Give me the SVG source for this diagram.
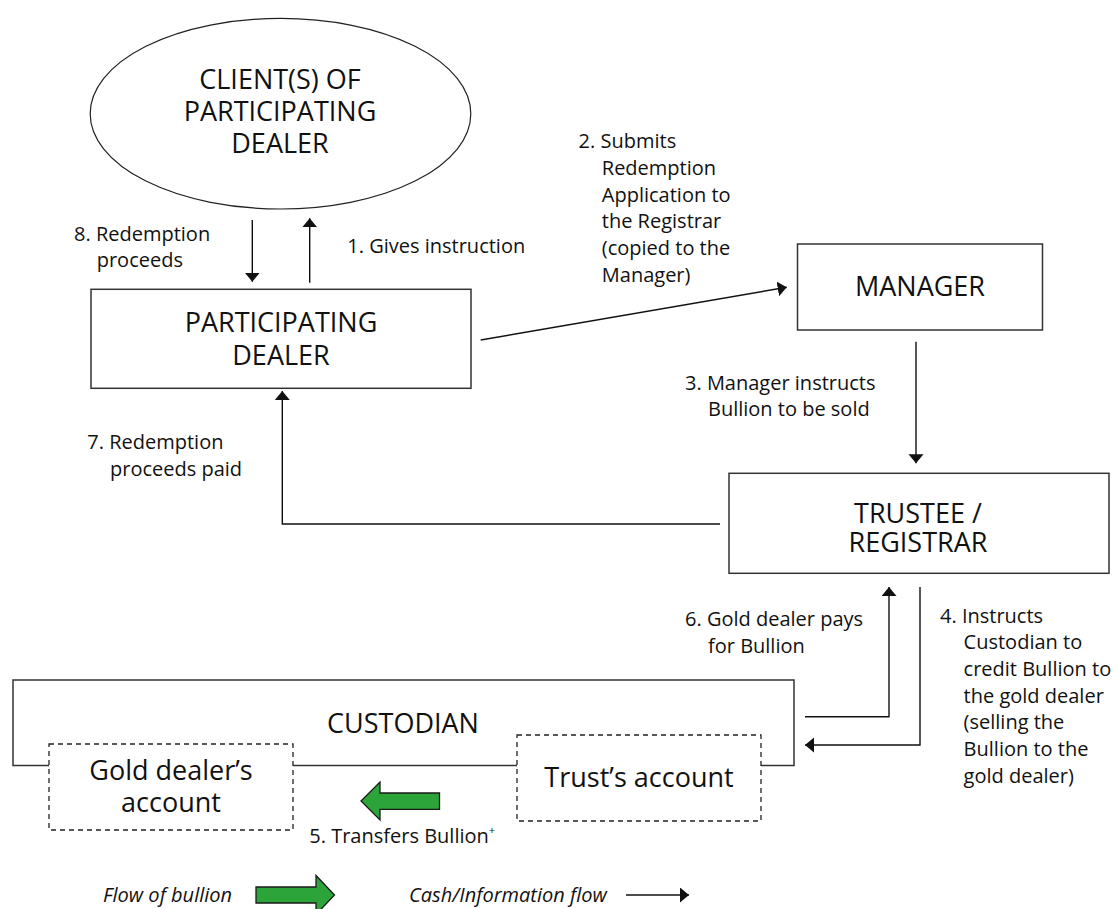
<svg xmlns="http://www.w3.org/2000/svg" width="1118" height="909" viewBox="0 0 1118 909">
  <defs>
    <marker id="ah" markerUnits="userSpaceOnUse" markerWidth="10" markerHeight="16" refX="9" refY="7.5" orient="auto">
      <path d="M0,0 L9,7.5 L0,15 Z" fill="#111"/>
    </marker>
    <style>
      .node { fill: #fff; stroke: #333; stroke-width: 1.5; }
      .dash { fill: #fff; stroke: #222; stroke-width: 1.3; stroke-dasharray: 5 4; }
      .nt { font-family: "Open Sans", "Noto Sans", sans-serif; font-size: 27px; fill: #111; text-anchor: middle; }
      .lb { font-family: "Open Sans", "Noto Sans", sans-serif; font-size: 20px; fill: #111; }
      .it { font-family: "Open Sans", "Noto Sans", sans-serif; font-size: 20px; fill: #111; font-style: italic; }
      .conn { fill: none; stroke: #111; stroke-width: 1.4; }
      .green { fill: #2da43a; stroke: #1a1a1a; stroke-width: 1.3; }
    </style>
  </defs>
  <rect width="1118" height="909" fill="#fff"/>

  <g id="clients">
    <ellipse cx="280.5" cy="113.7" rx="190.3" ry="95.3" fill="#fff" stroke="#222" stroke-width="1.2"/>
    <text class="nt" x="280" y="89.3">CLIENT(S) OF</text>
    <text class="nt" x="280" y="120.7">PARTICIPATING</text>
    <text class="nt" x="280" y="152.7">DEALER</text>
  </g>

  <g id="participating-dealer">
    <rect class="node" x="91" y="289.3" width="380" height="99"/>
    <text class="nt" x="281" y="332.3">PARTICIPATING</text>
    <text class="nt" x="281" y="365">DEALER</text>
  </g>

  <g id="manager">
    <rect class="node" x="797.5" y="244" width="245" height="86"/>
    <text class="nt" x="920" y="296">MANAGER</text>
  </g>

  <g id="trustee">
    <rect class="node" x="729" y="473.3" width="380" height="100"/>
    <text class="nt" x="918" y="522.7">TRUSTEE /</text>
    <text class="nt" x="918" y="551.7">REGISTRAR</text>
  </g>

  <g id="custodian">
    <path d="M49,765.5 H13 V680 H794 V765.5 H761 M293,765.5 H517" fill="none" stroke="#333" stroke-width="1.5"/>
    <text class="nt" x="403" y="732.7">CUSTODIAN</text>
  </g>

  <g id="gold-dealer-account">
    <rect class="dash" x="49" y="744" width="244" height="86"/>
    <text class="nt" x="171" y="780">Gold dealer’s</text>
    <text class="nt" x="171" y="811.7">account</text>
  </g>

  <g id="trust-account">
    <rect class="dash" x="517" y="735" width="244" height="86"/>
    <text class="nt" x="639" y="786.7">Trust’s account</text>
  </g>

  <g id="connectors">
    <line class="conn" x1="252.3" y1="220" x2="252.3" y2="281.7" marker-end="url(#ah)"/>
    <line class="conn" x1="309.7" y1="282.7" x2="309.7" y2="218.3" marker-end="url(#ah)"/>
    <line class="conn" x1="480.7" y1="340" x2="786.7" y2="287.3" marker-end="url(#ah)"/>
    <line class="conn" x1="916" y1="341.7" x2="916" y2="463.3" marker-end="url(#ah)"/>
    <polyline class="conn" points="720,524 282.3,524 282.3,391" marker-end="url(#ah)"/>
    <polyline class="conn" points="805,716.7 889,716.7 889,587" marker-end="url(#ah)"/>
    <polyline class="conn" points="920,587 920,745 805,745" marker-end="url(#ah)"/>
    <path class="green" d="M361,801 L380,782 L380,793 L439.5,793 L439.5,809.3 L380,809.3 L380,820 Z"/>
  </g>

  <g id="labels">
    <text class="lb" x="74" y="240.7">8. Redemption</text>
    <text class="lb" x="96.7" y="266.7">proceeds</text>
    <text class="lb" x="347.3" y="252.7">1. Gives instruction</text>
    <text class="lb" x="578.6" y="148.3">2. Submits</text>
    <text class="lb" x="601.8" y="175">Redemption</text>
    <text class="lb" x="601.8" y="201.7">Application to</text>
    <text class="lb" x="601.8" y="228.3">the Registrar</text>
    <text class="lb" x="601.8" y="255">(copied to the</text>
    <text class="lb" x="601.8" y="281.7">Manager)</text>
    <text class="lb" x="685" y="389.5">3. Manager instructs</text>
    <text class="lb" x="708" y="416">Bullion to be sold</text>
    <text class="lb" x="87.3" y="449.3">7. Redemption</text>
    <text class="lb" x="110" y="476">proceeds paid</text>
    <text class="lb" x="685" y="626">6. Gold dealer pays</text>
    <text class="lb" x="708" y="652.7">for Bullion</text>
    <text class="lb" x="940" y="622.7">4. Instructs</text>
    <text class="lb" x="963.6" y="649.3">Custodian to</text>
    <text class="lb" x="963.6" y="676">credit Bullion to</text>
    <text class="lb" x="963.6" y="702.7">the gold dealer</text>
    <text class="lb" x="963.6" y="729.3">(selling the</text>
    <text class="lb" x="963.6" y="756">Bullion to the</text>
    <text class="lb" x="963.6" y="782.7">gold dealer)</text>
    <text class="lb" x="309.3" y="842.7">5. Transfers Bullion<tspan font-size="11" dy="-9">+</tspan></text>
  </g>

  <g id="legend">
    <text class="it" x="103" y="901.7">Flow of bullion</text>
    <path class="green" d="M256,887 L316,887 L316,875.5 L334.5,895 L316,914.5 L316,903 L256,903 Z"/>
    <text class="it" x="409" y="901.7">Cash/Information flow</text>
    <line class="conn" x1="626" y1="895" x2="689" y2="895" marker-end="url(#ah)"/>
  </g>
</svg>
